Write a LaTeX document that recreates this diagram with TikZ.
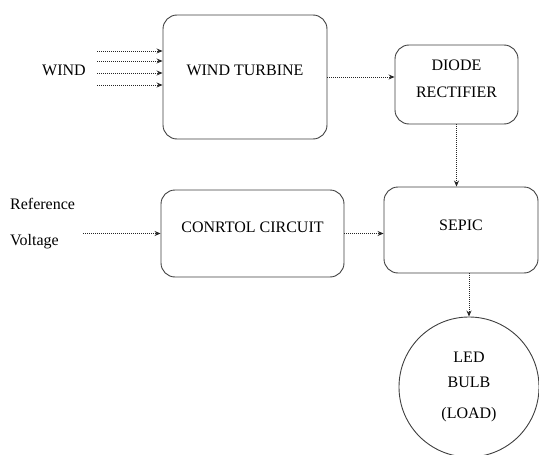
\documentclass[tikz,border=0pt]{standalone}
\usepackage{fontspec}
\setmainfont{Liberation Serif}
\usetikzlibrary{arrows.meta,positioning,calc}

\begin{document}
\begin{tikzpicture}[
    x=1pt, y=-1pt,
    block/.style={draw=black!75, line width=0.9pt, rounded corners=14pt, align=center, font=\rmfamily\fontsize{16}{27}\selectfont, fill=white},
    lbl/.style={align=left, font=\rmfamily\fontsize{16}{36}\selectfont, inner sep=2pt},
    arr/.style={-{Stealth[length=6pt,width=5pt]}, densely dotted, line width=1pt, draw=black!85}
]
\useasboundingbox (0,0) rectangle (539,455);
\node[block, minimum width=164pt, minimum height=124pt, text height=12pt, text depth=15.5pt] (turbine) at (245,77) {WIND TURBINE};
\node[block, minimum width=123pt, minimum height=79pt] (diode) at (456.5,84.5) {DIODE\\RECTIFIER\\[-15pt]\mbox{}};
\node[block, minimum width=183pt, minimum height=87pt, text height=12pt, text depth=15pt] (control) at (252.5,233.5) {CONRTOL CIRCUIT};
\node[block, minimum width=154pt, minimum height=86pt, text height=12pt, text depth=11pt] (sepic) at (461,230) {SEPIC};
\node[block, circle, rounded corners=0pt, minimum size=140pt, font=\rmfamily\fontsize{16}{25}\selectfont] (load) at (469,387) {LED\\BULB\\[6pt](LOAD)};
\node[lbl] (wind) at (64,70) {WIND};
\node[lbl, anchor=north west] (ref) at (8,196) {Reference\\Voltage};

\coordinate (w1) at (97,51);
\coordinate (w2) at (97,61);
\coordinate (w3) at (97,73);
\coordinate (w4) at (97,85);
\draw[arr] (w1) -- (w1 -| turbine.west);
\draw[arr] (w2) -- (w2 -| turbine.west);
\draw[arr] (w3) -- (w3 -| turbine.west);
\draw[arr] (w4) -- (w4 -| turbine.west);

\draw[arr] (turbine.east) -- (turbine.east -| diode.west);
\draw[arr] (diode.south) -- (diode.south |- sepic.north);
\draw[arr] ($(ref.east |- control.west)+(6,0)$) -- (control.west);
\draw[arr] (control.east) -- (control.east -| sepic.west);
\draw[arr] (load.north |- sepic.south) -- (load.north);
\end{tikzpicture}
\end{document}
